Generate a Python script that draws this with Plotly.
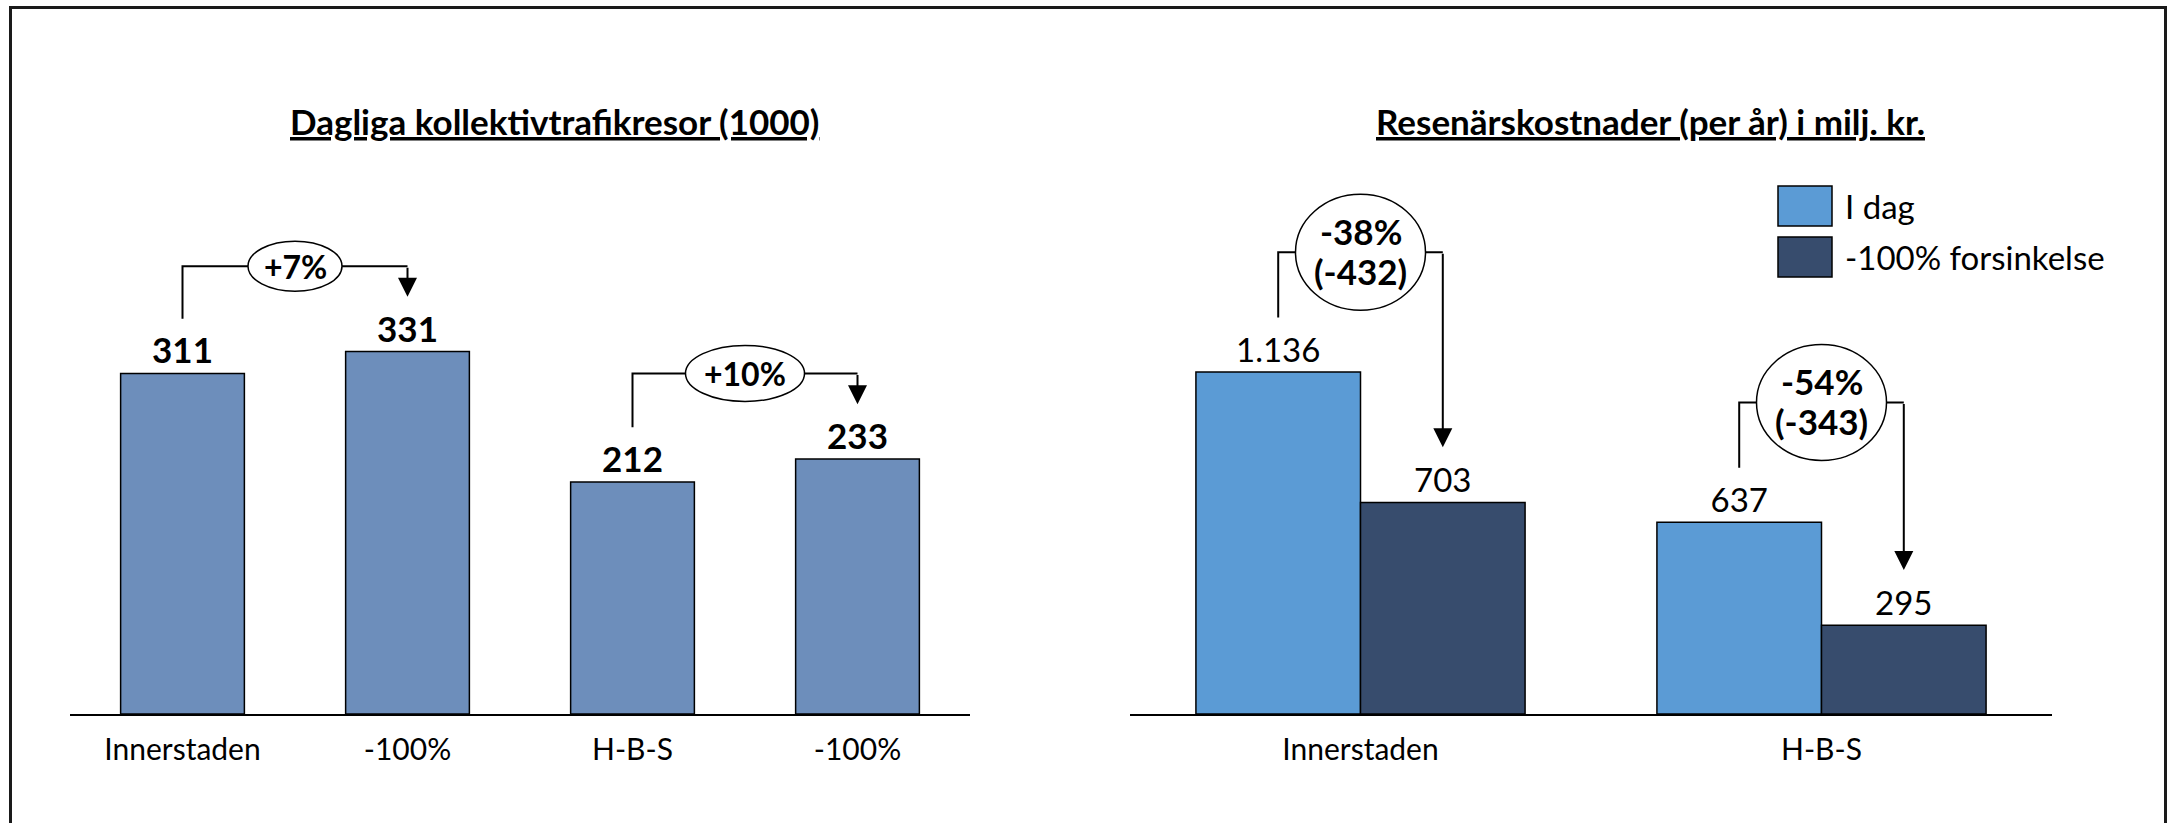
import plotly.graph_objects as go

# ---- data -------------------------------------------------------------
left_title = "Dagliga kollektivtrafikresor (1000)"
left_categories = ["Innerstaden", "-100%", "H-B-S", "-100%"]
left_values = [311, 331, 212, 233]
left_pairs = [(0, 1), (2, 3)]
left_change = ["+7%", "+10%"]

right_title = "Resenärskostnader (per år) i milj. kr."
right_categories = ["Innerstaden", "H-B-S"]
right_series = ["I dag", "-100% forsinkelse"]
right_today = [1136, 637]
right_delay = [703, 295]
right_change_pct = ["-38%", "-54%"]
right_change_abs = ["(-432)", "(-343)"]

# ---- style ------------------------------------------------------------
W, H = 2167, 823
FONT = "Lato"
C_LEFT = "#6D8EBB"
C_TODAY = "#5B9BD5"
C_DELAY = "#374C6D"
INK = "#000000"

PX_AXIS, PX_TOP = 714, 60
y_dom = [1 - PX_AXIS / H, 1 - PX_TOP / H]
left_ymax = 597.3      # ~1.095 px per unit
right_ymax = 2172.8    # ~0.301 px per unit

def px(v):
    return v / W

fig = go.Figure()

# left chart: single series, four bars
fig.add_trace(go.Bar(
    x=list(range(len(left_values))), y=left_values, width=0.55,
    marker=dict(color=C_LEFT, line=dict(color=INK, width=1.5)),
    texttemplate="%{y}", textposition="outside",
    textfont=dict(family=FONT, size=35, color=INK, weight="bold"),
    cliponaxis=False, xaxis="x", yaxis="y", showlegend=False,
))

# right chart: two series side by side
BW = 0.357
for vals, col, off, name in [(right_today, C_TODAY, -BW, right_series[0]),
                             (right_delay, C_DELAY, 0.0, right_series[1])]:
    fig.add_trace(go.Bar(
        x=list(range(len(vals))), y=vals, width=BW, offset=off, name=name,
        marker=dict(color=col, line=dict(color=INK, width=1.5)),
        texttemplate="%{y:,}", textposition="outside",
        textfont=dict(family=FONT, size=33, color=INK),
        cliponaxis=False, xaxis="x2", yaxis="y2", showlegend=False,
    ))

shapes = []
annotations = []

def bracket(xa, ya, xb, yb, yh, xr, yr, lines, ew, eh, fsize, shifts):
    # elbow connector from bar a to bar b with a labelled ellipse on top
    shapes.append(dict(type="path", xref=xr, yref=yr,
                       path=f"M {xa},{ya} L {xa},{yh} L {xb},{yh}",
                       line=dict(color=INK, width=2)))
    annotations.append(dict(x=xb, y=yb, ax=xb, ay=yh, xref=xr, yref=yr,
                            axref=xr, ayref=yr, text="", showarrow=True,
                            arrowhead=2, arrowsize=1.9, arrowwidth=2,
                            arrowcolor=INK, standoff=0))
    xm = (xa + xb) / 2
    shapes.append(dict(type="circle", xref=xr, yref=yr,
                       xsizemode="pixel", ysizemode="pixel",
                       xanchor=xm, yanchor=yh,
                       x0=-ew / 2, x1=ew / 2, y0=-eh / 2, y1=eh / 2,
                       fillcolor="white", line=dict(color=INK, width=1.5)))
    for txt, dy in zip(lines, shifts):
        annotations.append(dict(x=xm, y=yh, xref=xr, yref=yr, text=txt,
                                yshift=dy, showarrow=False,
                                xanchor="center", yanchor="middle",
                                font=dict(family=FONT, size=fsize, color=INK,
                                          weight="bold")))

for (a, b), lab, ew, eh in zip(left_pairs, left_change, [94, 119], [50, 56]):
    va, vb = left_values[a], left_values[b]
    bracket(a, va + 50, b, vb + 50, max(va, vb) + 78, "x", "y",
            [lab], ew, eh, 32, [0])

for i, (pct, ab) in enumerate(zip(right_change_pct, right_change_abs)):
    va, vb = right_today[i], right_delay[i]
    bracket(i - BW / 2, va + 181, i + BW / 2, vb + 183, max(va, vb) + 398,
            "x2", "y2", [pct, ab], 130, 116, 35, [21, -19])

# chart titles
for txt, xc in [(left_title, 554), (right_title, 1650)]:
    annotations.append(dict(x=px(xc), y=1 - 121 / H, xref="paper",
                            yref="paper", text=f"<u>{txt}</u>",
                            xanchor="center", yanchor="middle",
                            showarrow=False,
                            font=dict(family=FONT, size=35, color=INK,
                                      weight="bold")))

# legend boxes for the right chart
for (y0, y1), col, name in zip([(186, 226), (237, 277)],
                               [C_TODAY, C_DELAY], right_series):
    shapes.append(dict(type="rect", xref="paper", yref="paper",
                       x0=px(1778), x1=px(1832), y0=1 - y1 / H, y1=1 - y0 / H,
                       fillcolor=col, line=dict(color=INK, width=1.5)))
    annotations.append(dict(x=px(1843), y=1 - (y0 + y1) / 2 / H,
                            xref="paper", yref="paper", text=name,
                            xanchor="left", yanchor="middle", showarrow=False,
                            font=dict(family=FONT, size=33, color=INK)))

# outer frame
shapes.append(dict(type="rect", xref="paper", yref="paper",
                   x0=px(10.5), x1=px(2165.5), y0=-0.05, y1=1 - 7.5 / H,
                   line=dict(color="#1a1a1a", width=3)))

axis_common = dict(showline=True, linecolor=INK, linewidth=2, ticks="",
                   showgrid=False, zeroline=False, fixedrange=True,
                   tickfont=dict(family=FONT, size=30, color=INK),
                   ticklabelstandoff=8)

fig.update_layout(
    width=W, height=H, margin=dict(l=0, r=0, t=0, b=0),
    paper_bgcolor="white", plot_bgcolor="white",
    separators=",.", barmode="overlay",
    xaxis=dict(domain=[px(70), px(970)], range=[-0.5, 3.5],
               tickvals=list(range(len(left_categories))),
               ticktext=left_categories, anchor="y", **axis_common),
    yaxis=dict(domain=y_dom, range=[0, left_ymax], visible=False,
               anchor="x"),
    xaxis2=dict(domain=[px(1130), px(2052)], range=[-0.5, 1.5],
                tickvals=list(range(len(right_categories))),
                ticktext=right_categories, anchor="y2", **axis_common),
    yaxis2=dict(domain=y_dom, range=[0, right_ymax], visible=False,
                anchor="x2"),
    shapes=shapes, annotations=annotations,
)

fig.write_html("out.html")
